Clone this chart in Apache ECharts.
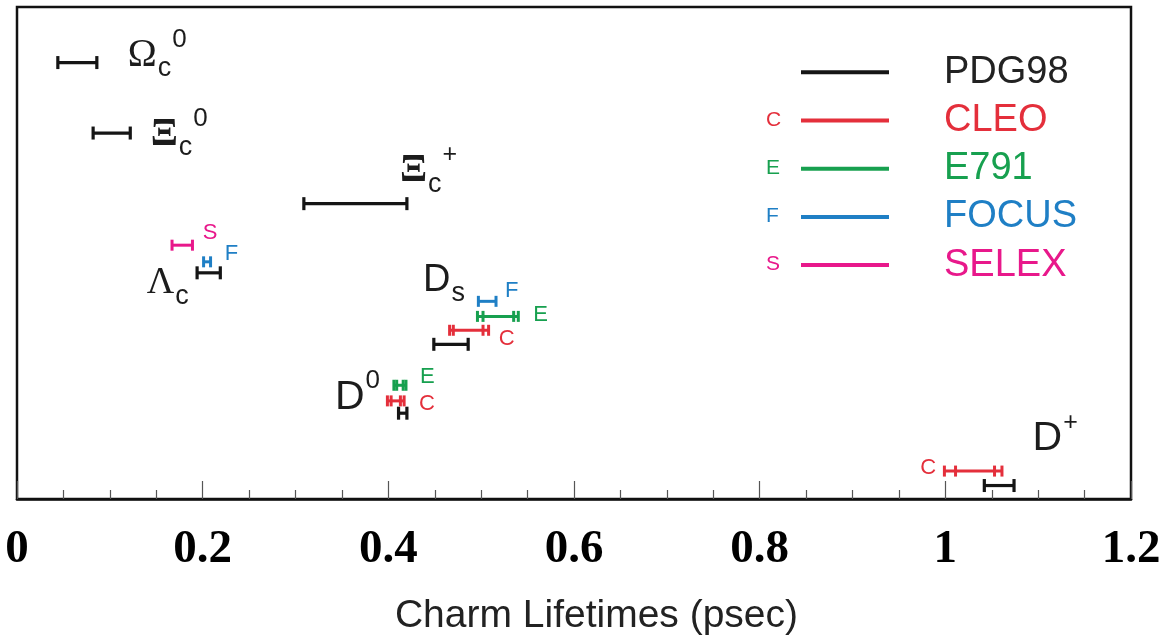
<!DOCTYPE html>
<html>
<head>
<meta charset="utf-8">
<title>Charm Lifetimes</title>
<script src="https://cdn.jsdelivr.net/npm/echarts@6/dist/echarts.min.js"></script>
<style>
  html, body { margin: 0; padding: 0; background: #fff; }
  #chart { width: 1169px; height: 641px; }
</style>
</head>
<body>
<div id="chart"></div>
<script>
// Charm hadron lifetimes in ps: PDG98 averages and later measurements.
// Each measurement sits in its own row on a hidden 0–34 vertical scale.
// low/high = full error range, statLow/statHigh = inner (statistical) range.

const xTicks = [0, 0.2, 0.4, 0.6, 0.8, 1, 1.2];

const pdgParticles = ['Ωc0', 'Ξc0', 'Ξc+', 'Λc', 'Ds', 'D0', 'D+'];
const pdgRows = [30.16, 25.29, 20.41, 15.63, 10.69, 5.93, 0.93];
const pdgLow  = [0.044, 0.082, 0.309, 0.194, 0.449, 0.411, 1.042];
const pdgHigh = [0.086, 0.122, 0.420, 0.219, 0.486, 0.420, 1.074];

const cleoParticles = ['Ds', 'D0', 'D+'];
const cleoRows = [11.66, 6.78, 1.93];
const cleoLow = [0.466, 0.399, 0.999];
const cleoHigh = [0.508, 0.417, 1.061];
const cleoStatLow = [0.470, 0.403, 1.011];
const cleoStatHigh = [0.502, 0.413, 1.053];
const cleoTagX = [0.519, 0.433, 0.973];
const cleoTagRow = [11.03, 6.55, 2.17];

const e791Particles = ['Ds', 'D0'];
const e791Rows = [12.62, 7.86];
const e791Low = [0.496, 0.406];
const e791High = [0.540, 0.419];
const e791StatLow = [0.502, 0.409];
const e791StatHigh = [0.535, 0.416];
const e791TagX = [0.556, 0.434];
const e791TagRow = [12.72, 8.41];

const focusParticles = ['Λc', 'Ds'];
const focusRows = [16.39, 13.66];
const focusLow = [0.201, 0.497];
const focusHigh = [0.2085, 0.516];
const focusTagX = [0.2239, 0.5258];
const focusTagRow = [16.93, 14.38];

const selexParticles = ['Λc'];
const selexRows = [17.54];
const selexLow = [0.167];
const selexHigh = [0.189];
const selexTagX = [0.2002];
const selexTagRow = [18.38];

// particle names: main glyph, subscript, superscript, anchor (left, middle)
const labelMain = ['Ω', 'Ξ', 'Ξ', 'Λ', 'D', 'D', 'D'];
const labelSub  = ['c', 'c', 'c', 'c', 's', '', ''];
const labelSup  = ['0', '0', '+', '', '', '0', '+'];
const labelX    = [0.1194, 0.1441, 0.4126, 0.1398, 0.4374, 0.3425, 1.094];
const labelRow  = [30.62, 25.17, 22.66, 14.90, 15.07, 7.03, 4.14];

const experiments = [
  { name: 'PDG98', tag: '', color: '#151515', rows: pdgRows, low: pdgLow, high: pdgHigh },
  { name: 'CLEO', tag: 'C', color: '#e42f3b', rows: cleoRows, low: cleoLow, high: cleoHigh,
    statLow: cleoStatLow, statHigh: cleoStatHigh, tagX: cleoTagX, tagRow: cleoTagRow },
  { name: 'E791', tag: 'E', color: '#17a04f', rows: e791Rows, low: e791Low, high: e791High,
    statLow: e791StatLow, statHigh: e791StatHigh, tagX: e791TagX, tagRow: e791TagRow },
  { name: 'FOCUS', tag: 'F', color: '#1f7fc5', rows: focusRows, low: focusLow, high: focusHigh,
    tagX: focusTagX, tagRow: focusTagRow },
  { name: 'SELEX', tag: 'S', color: '#e8188b', rows: selexRows, low: selexLow, high: selexHigh,
    tagX: selexTagX, tagRow: selexTagRow }
];

const SANS = '"Liberation Sans", Arial, sans-serif';
const SERIF = '"Liberation Serif", "Times New Roman", serif';

// font for the leading glyph of each particle name
function mainFont(glyph, hasSub) {
  if (glyph === 'Ξ') return { family: SERIF, size: 40, weight: 'bold' };
  if (glyph === 'Ω') return { family: SERIF, size: 39, weight: 'normal' };
  if (glyph === 'Λ') return { family: SERIF, size: 38, weight: 'normal' };
  return { family: SANS, size: hasSub ? 38 : 41, weight: 'normal' };
}

const measureCtx = document.createElement('canvas').getContext('2d');
function textWidth(text, size, family, weight) {
  measureCtx.font = (weight || 'normal') + ' ' + size + 'px ' + family;
  return measureCtx.measureText(text).width;
}

function pick(arr, i) { return arr ? arr[i] : null; }

function errorBarRenderer(tag, capHalf, lineWidth) {
  return function (params, api) {
    const row = api.value(0);
    const color = api.visual('color');
    const a = api.coord([api.value(1), row]);
    const b = api.coord([api.value(2), row]);
    const kids = [{
      type: 'line',
      shape: { x1: a[0], y1: a[1], x2: b[0], y2: b[1] },
      style: { stroke: color, lineWidth: lineWidth }
    }];
    const cap = function (x) {
      kids.push({
        type: 'line',
        shape: { x1: x, y1: a[1] - capHalf, x2: x, y2: a[1] + capHalf },
        style: { stroke: color, lineWidth: lineWidth }
      });
    };
    cap(a[0]);
    cap(b[0]);
    const sLo = api.value(3), sHi = api.value(4);
    if (isFinite(sLo) && isFinite(sHi)) {
      cap(api.coord([sLo, row])[0]);
      cap(api.coord([sHi, row])[0]);
    }
    const tx = api.value(5), tr = api.value(6);
    if (tag && isFinite(tx) && isFinite(tr)) {
      const p = api.coord([tx, tr]);
      kids.push({
        type: 'text', x: p[0], y: p[1],
        style: { text: tag, fill: color, fontSize: 22, fontFamily: SANS,
                 align: 'left', verticalAlign: 'middle' }
      });
    }
    return { type: 'group', children: kids };
  };
}

const barSeries = experiments.map(function (e) {
  const data = e.rows.map(function (r, i) {
    return [r, e.low[i], e.high[i], pick(e.statLow, i), pick(e.statHigh, i),
            pick(e.tagX, i), pick(e.tagRow, i)];
  });
  const isPdg = e.name === 'PDG98';
  return {
    name: e.name,
    type: 'custom',
    itemStyle: { color: e.color },
    dimensions: ['row', 'low', 'high', 'statLow', 'statHigh', 'tagX', 'tagRow'],
    encode: { x: ['low', 'high'], y: 'row' },
    renderItem: errorBarRenderer(e.tag, isPdg ? 6.5 : 5.5, isPdg ? 3.2 : 3),
    data: data,
    z: 3
  };
});

const labelData = labelMain.map(function (m, i) { return [labelX[i], labelRow[i]]; });

function particleLabelRenderer(params, api) {
  const i = params.dataIndex;
  const p = api.coord([api.value(0), api.value(1)]);
  const f = mainFont(labelMain[i], !!labelSub[i]);
  const kids = [{
    type: 'text', x: p[0], y: p[1],
    style: { text: labelMain[i], fill: '#1c1c1c', fontSize: f.size, fontFamily: f.family,
             fontWeight: f.weight, align: 'left', verticalAlign: 'middle' }
  }];
  let x = p[0] + textWidth(labelMain[i], f.size, f.family, f.weight) + 1;
  if (labelSub[i]) {
    kids.push({
      type: 'text', x: x, y: p[1] + 13,
      style: { text: labelSub[i], fill: '#1c1c1c', fontSize: 27, fontFamily: SANS,
               align: 'left', verticalAlign: 'middle' }
    });
    x += textWidth(labelSub[i], 27, SANS) + 1;
  }
  if (labelSup[i]) {
    const supSize = labelSup[i] === '+' ? 25 : 26;
    kids.push({
      type: 'text', x: x, y: p[1] - 16,
      style: { text: labelSup[i], fill: '#1c1c1c', fontSize: supSize, fontFamily: SANS,
               align: 'left', verticalAlign: 'middle' }
    });
  }
  return { type: 'group', children: kids };
}

// legend geometry
const LEGEND_LEFT = 801;
const LEGEND_FIRST = 72.3;
const LEGEND_STEP = 48.2;
const LEGEND_LINE_H = 38;

const legendTags = experiments.slice(1).map(function (e, k) {
  return {
    type: 'text',
    left: 766,
    top: LEGEND_FIRST + LEGEND_STEP * (k + 1) - 11,
    style: { text: e.tag, fill: e.color, fontSize: 21, fontFamily: SANS }
  };
});

const chart = echarts.init(document.getElementById('chart'), null, { renderer: 'canvas' });

chart.setOption({
  animation: false,
  backgroundColor: '#ffffff',
  grid: {
    left: 17, right: 38, top: 7, bottom: 141,
    show: true, borderColor: '#111', borderWidth: 2.5, backgroundColor: 'transparent'
  },
  xAxis: {
    type: 'value',
    min: xTicks[0],
    max: xTicks[xTicks.length - 1],
    interval: xTicks[1] - xTicks[0],
    name: 'Charm Lifetimes (psec)',
    nameLocation: 'middle',
    nameGap: 98,
    nameTextStyle: { fontFamily: SANS, fontSize: 39, color: '#222', padding: [0, 0, 0, 45] },
    axisLine: { show: true, lineStyle: { color: '#111', width: 2.5 } },
    axisTick: { show: true, inside: true, length: 18, lineStyle: { color: '#555', width: 1.2 } },
    minorTick: { show: true, splitNumber: 4, length: 9, lineStyle: { color: '#555', width: 1.2 } },
    splitLine: { show: false },
    minorSplitLine: { show: false },
    axisLabel: {
      margin: 27,
      fontFamily: SERIF,
      fontWeight: 'bold',
      fontSize: 47,
      color: '#000',
      formatter: function (v) { return String(+v.toFixed(2)); }
    }
  },
  yAxis: {
    type: 'value', min: 0, max: 34, show: false,
    splitLine: { show: false }
  },
  legend: {
    orient: 'vertical',
    left: LEGEND_LEFT,
    top: LEGEND_FIRST - LEGEND_LINE_H / 2,
    padding: 0,
    itemGap: LEGEND_STEP - LEGEND_LINE_H,
    itemWidth: 88,
    itemHeight: 4,
    icon: 'rect',
    selectedMode: false,
    textStyle: { fontFamily: SANS, fontSize: 38, lineHeight: LEGEND_LINE_H, padding: [0, 0, 0, 50] },
    data: experiments.map(function (e) {
      return { name: e.name, textStyle: { color: e.color === '#151515' ? '#222' : e.color } };
    })
  },
  graphic: legendTags,
  series: barSeries.concat([{
    name: 'particles',
    type: 'custom',
    renderItem: particleLabelRenderer,
    encode: { x: 0, y: 1 },
    data: labelData,
    silent: true,
    z: 4
  }])
});
</script>
</body>
</html>
